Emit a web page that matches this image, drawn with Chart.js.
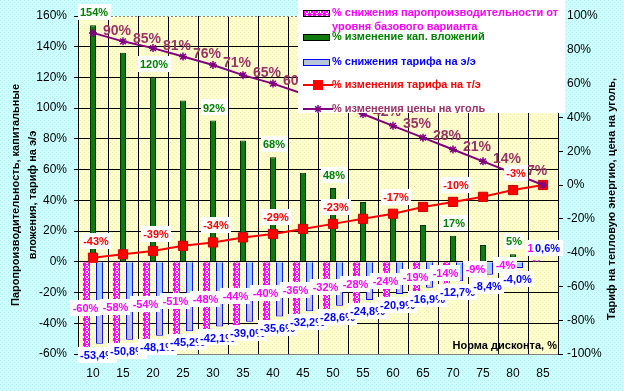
<!DOCTYPE html>
<html>
<head>
<meta charset="utf-8">
<title>Норма дисконта</title>
<script src="https://cdn.jsdelivr.net/npm/chart.js@4.4.1/dist/chart.umd.min.js"></script>
<style>
  html, body { margin: 0; padding: 0; background: #CCFFFF; }
  #chart { display: block; }
</style>
</head>
<body>
<canvas id="chart" width="624" height="391"></canvas>
<script>
const FONT = "'Liberation Sans', Arial, sans-serif";
Chart.defaults.font.family = FONT;
Chart.defaults.color = '#000';

// Норма дисконта, %
const categories = ['10', '15', '20', '25', '30', '35', '40', '45', '50', '55', '60', '65', '70', '75', '80', '85'];

// % снижения паропроизводительности от уровня базового варианта
const steamDrop = [-60, -58, -54, -51, -48, -44, -40, -36, -32, -28, -24, -19, -14, -9, -4, 1];
// % изменение кап. вложений
const capexChange = [154, 136, 120, 105, 92, 79, 68, 58, 48, 39, 31, 24, 17, 11, 5, 0];
// % снижения тарифа на э/э
const powerTariffDrop = [-53.4, -50.8, -48.1, -45.2, -42.1, -39.0, -35.6, -32.2, -28.6, -24.8, -20.9, -16.9, -12.7, -8.4, -4.0, 0.6];
// % изменения тарифа на т/э (правая ось)
const heatTariffChange = [-43, -41, -39, -36, -34, -31, -29, -26, -23, -20, -17, -13, -10, -7, -3, 0];
// % изменения цены на уголь (правая ось)
const coalPriceChange = [90, 85, 81, 76, 71, 65, 60, 54, 48, 42, 35, 28, 21, 14, 7, 0];

// подписи осей
const leftTicks = [-60, -40, -20, 0, 20, 40, 60, 80, 100, 120, 140, 160];
const rightTicks = [-100, -80, -60, -40, -20, 0, 20, 40, 60, 80, 100];

const leftTitle = ['Паропроизводительность, капитальные', 'вложения, тариф на э/э'];
const rightTitle = 'Тариф на тепловую энергию, цена на уголь,';
const xTitle = 'Норма дисконта, %';

// узоры заливки (как в Excel)
function makePattern(size, base, dotColor, dots) {
  const c = document.createElement('canvas');
  c.width = c.height = size;
  const g = c.getContext('2d');
  g.fillStyle = base;
  g.fillRect(0, 0, size, size);
  g.fillStyle = dotColor;
  dots.forEach(([x, y]) => g.fillRect(x, y, 1, 1));
  return g.createPattern(c, 'repeat');
}

const pinkPattern = makePattern(5, '#FF00FF', '#FFFFFF',
  [[1, 0], [2, 0], [0, 1], [3, 1], [0, 2], [3, 2], [1, 3], [2, 3]]);
const cyanPattern = makePattern(4, '#CCFFFF', '#B6ECF2', [[0, 0], [2, 2]]);
const yellowPattern = makePattern(4, '#FFFFCC', '#F0EEBE', [[0, 0], [2, 2]]);

// голубые столбцы: сверху голубые, снизу серые
function blueFill(c) {
  const chart = c.chart;
  const scale = chart.scales.y;
  if (c.type !== 'data' || !scale || !chart.chartArea) return '#99CCFF';
  const y0 = scale.getPixelForValue(0);
  const y1 = scale.getPixelForValue(c.raw);
  if (Math.abs(y1 - y0) < 2) return '#99CCFF';
  const g = chart.ctx.createLinearGradient(0, y0, 0, y1);
  g.addColorStop(0, '#99CCFF');
  g.addColorStop(0.62, '#99CCFF');
  g.addColorStop(0.7, '#C4C8D4');
  g.addColorStop(1, '#BDBDC4');
  return g;
}

const fmt = v => Math.round(v) + '%';
const fmt1 = v => v.toFixed(1).replace('.', ',') + '%';

function drawBoxLabel(ctx, text, x, y, color) {
  ctx.font = 'bold 11px ' + FONT;
  const w = Math.ceil(ctx.measureText(text).width) + 4;
  ctx.fillStyle = '#FFFFFF';
  ctx.fillRect(Math.round(x - w / 2), Math.round(y - 8), w, 16);
  ctx.fillStyle = color;
  ctx.textAlign = 'center';
  ctx.textBaseline = 'middle';
  ctx.fillText(text, x, y + 1);
}

// фон всей диаграммы и области построения
const backdrop = {
  id: 'backdrop',
  beforeDraw(chart) {
    const { ctx, chartArea: a } = chart;
    ctx.save();
    ctx.fillStyle = cyanPattern;
    ctx.fillRect(0, 0, chart.width, chart.height);
    ctx.fillStyle = yellowPattern;
    ctx.fillRect(a.left, a.top, a.right - a.left, a.bottom - a.top);
    ctx.restore();
  }
};

// подписи данных
const dataLabels = {
  id: 'dataLabels',
  afterDatasetsDraw(chart) {
    const ctx = chart.ctx;
    const pink = chart.getDatasetMeta(0).data;
    const green = chart.getDatasetMeta(1).data;
    const blue = chart.getDatasetMeta(2).data;
    const red = chart.getDatasetMeta(3).data;
    const purple = chart.getDatasetMeta(4).data;
    ctx.save();

    green.forEach((el, i) => {
      if (i % 2 || i === 10) return; // у 60 подпись закрыта подписью тарифа
      drawBoxLabel(ctx, fmt(capexChange[i]), el.x + 1, el.y - 13, '#008000');
    });

    pink.forEach((el, i) => {
      const v = steamDrop[i];
      const y = v > 0 ? el.y - 12 : (el.y + el.base) / 2;
      drawBoxLabel(ctx, fmt(v), el.x - 1, y, '#FF00FF');
    });

    blue.forEach((el, i) => {
      const v = powerTariffDrop[i];
      const y = v < 0 ? el.y + 11 : el.y - 13;
      drawBoxLabel(ctx, fmt1(v), el.x - 2, y, '#0000FF');
    });

    ctx.font = 'bold 14px ' + FONT;
    ctx.fillStyle = '#993366';
    ctx.textAlign = 'center';
    ctx.textBaseline = 'middle';
    purple.forEach((el, i) => {
      if (i === purple.length - 1) return;
      ctx.fillText(fmt(coalPriceChange[i]), el.x + 24, el.y - 2);
    });

    red.forEach((el, i) => {
      if (i % 2) return;
      drawBoxLabel(ctx, fmt(heatTariffChange[i]), el.x + 3, el.y - 17, '#FF0000');
    });

    ctx.restore();
  }
};

// названия осей и легенда
const titlesAndLegend = {
  id: 'titlesAndLegend',
  afterDraw(chart) {
    const ctx = chart.ctx;
    ctx.save();
    ctx.font = 'bold 11px ' + FONT;
    ctx.fillStyle = '#000';
    ctx.textBaseline = 'middle';
    ctx.textAlign = 'center';

    [16, 33].forEach((x, i) => {
      ctx.save();
      ctx.translate(x, 195);
      ctx.rotate(-Math.PI / 2);
      ctx.fillText(leftTitle[i], 0, 0);
      ctx.restore();
    });

    ctx.save();
    ctx.translate(612, 199);
    ctx.rotate(-Math.PI / 2);
    ctx.fillText(rightTitle, 0, 0);
    ctx.restore();

    ctx.textAlign = 'right';
    ctx.fillText(xTitle, 557, 346);

    // легенда
    const lx = 298, lw = 267, lh = 113;
    ctx.fillStyle = '#FFFFFF';
    ctx.fillRect(lx, 0, lw, lh);
    ctx.beginPath();
    ctx.rect(lx, 0, lw, lh);
    ctx.clip();

    const rows = [13, 37, 62, 85, 109];
    const textColors = ['#FF00FF', '#008000', '#0000FF', '#FF0000', '#993366'];
    const iconFills = [pinkPattern, '#0F7A0F', '#B8C4D8'];
    const iconBorders = ['#000000', '#000000', '#0000FF'];

    chart.data.datasets.forEach((ds, i) => {
      const y = rows[i];
      if (ds.type === 'bar') {
        ctx.fillStyle = iconFills[i];
        ctx.fillRect(303, y - 3, 27, 6);
        ctx.strokeStyle = iconBorders[i];
        ctx.lineWidth = 1;
        ctx.strokeRect(303.5, y - 2.5, 26, 6);
      } else {
        ctx.strokeStyle = ds.borderColor;
        ctx.lineWidth = 2;
        ctx.beginPath();
        ctx.moveTo(303, y);
        ctx.lineTo(333, y);
        ctx.stroke();
        if (ds.pointStyle === 'rect') {
          ctx.fillStyle = ds.pointBackgroundColor;
          ctx.fillRect(313, y - 5, 10, 10);
        } else {
          ctx.lineWidth = 1.5;
          ctx.beginPath();
          for (let k = 0; k < 4; k++) {
            const a = k * Math.PI / 4;
            ctx.moveTo(318 - 4 * Math.cos(a), y - 4 * Math.sin(a));
            ctx.lineTo(318 + 4 * Math.cos(a), y + 4 * Math.sin(a));
          }
          ctx.stroke();
        }
      }

      // перенос текста по словам
      ctx.font = 'bold 11px ' + FONT;
      ctx.fillStyle = textColors[i];
      ctx.textAlign = 'left';
      const words = ds.label.split(' ');
      const lines = [];
      let line = '';
      words.forEach(w => {
        const test = line ? line + ' ' + w : w;
        if (ctx.measureText(test).width > 236 && line) {
          lines.push(line);
          line = w;
        } else {
          line = test;
        }
      });
      lines.push(line);
      lines.forEach((t, k) => ctx.fillText(t, 332, y + k * 14));
    });

    ctx.restore();
  }
};

new Chart(document.getElementById('chart'), {
  type: 'bar',
  data: {
    labels: categories,
    datasets: [
      {
        type: 'bar',
        label: '% снижения паропроизводительности от уровня базового варианта',
        data: steamDrop,
        yAxisID: 'y',
        backgroundColor: pinkPattern,
        borderWidth: 0,
        categoryPercentage: 0.87,
        barPercentage: 0.54,
        order: 2
      },
      {
        type: 'bar',
        label: '% изменение кап. вложений',
        data: capexChange,
        yAxisID: 'y',
        backgroundColor: '#0F7A0F',
        borderColor: '#003300',
        borderWidth: 1,
        grouped: false,
        categoryPercentage: 1,
        barPercentage: 0.2,
        order: 2
      },
      {
        type: 'bar',
        label: '% снижения тарифа на э/э',
        data: powerTariffDrop,
        yAxisID: 'y',
        backgroundColor: blueFill,
        borderColor: '#0000FF',
        borderWidth: 1,
        categoryPercentage: 0.87,
        barPercentage: 0.54,
        order: 2
      },
      {
        type: 'line',
        label: '% изменения тарифа на т/э',
        data: heatTariffChange,
        yAxisID: 'y1',
        borderColor: '#FF0000',
        borderWidth: 2,
        pointStyle: 'rect',
        pointRadius: 6.5,
        pointBackgroundColor: '#FF0000',
        pointBorderColor: '#D00000',
        pointBorderWidth: 1,
        tension: 0,
        order: 1
      },
      {
        type: 'line',
        label: '% изменения цены на уголь',
        data: coalPriceChange,
        yAxisID: 'y1',
        borderColor: '#800080',
        borderWidth: 2,
        pointStyle: 'star',
        pointRadius: 4,
        pointBorderColor: '#800080',
        pointBorderWidth: 1.5,
        tension: 0,
        order: 0
      }
    ]
  },
  options: {
    responsive: false,
    animation: false,
    events: [],
    layout: { padding: { top: 16, left: 0, right: 0, bottom: 0 } },
    plugins: {
      legend: { display: false },
      tooltip: { enabled: false }
    },
    scales: {
      x: {
        offset: true,
        grid: { color: '#000', offset: true, drawTicks: false },
        border: { color: '#808080' },
        ticks: { color: '#000', font: { size: 12 }, padding: 12, maxRotation: 0, autoSkip: false },
        afterFit: s => { s.height = 37; }
      },
      y: {
        position: 'left',
        min: leftTicks[0],
        max: leftTicks[leftTicks.length - 1],
        ticks: {
          stepSize: leftTicks[1] - leftTicks[0],
          callback: v => v + '%',
          color: '#000',
          font: { size: 12 },
          padding: 7
        },
        grid: {
          color: c => (c.tick && (c.tick.value === leftTicks[0] || c.tick.value === leftTicks[leftTicks.length - 1])) ? '#808080' : '#000',
          tickColor: '#000',
          tickLength: 4
        },
        border: {
          color: '#000',
          dash: c => (c.type === 'tick' && c.tick && (c.tick.value === leftTicks[0] || c.tick.value === leftTicks[leftTicks.length - 1])) ? [2, 2] : []
        },
        afterFit: s => { s.width = 78; }
      },
      y1: {
        position: 'right',
        min: rightTicks[0],
        max: rightTicks[rightTicks.length - 1],
        ticks: {
          stepSize: rightTicks[1] - rightTicks[0],
          callback: v => v + '%',
          color: '#000',
          font: { size: 12 },
          padding: 4
        },
        grid: { drawOnChartArea: false, color: '#000', tickLength: 5 },
        border: { color: '#000' },
        afterFit: s => { s.width = 66; }
      }
    }
  },
  plugins: [backdrop, dataLabels, titlesAndLegend]
});
</script>
</body>
</html>
